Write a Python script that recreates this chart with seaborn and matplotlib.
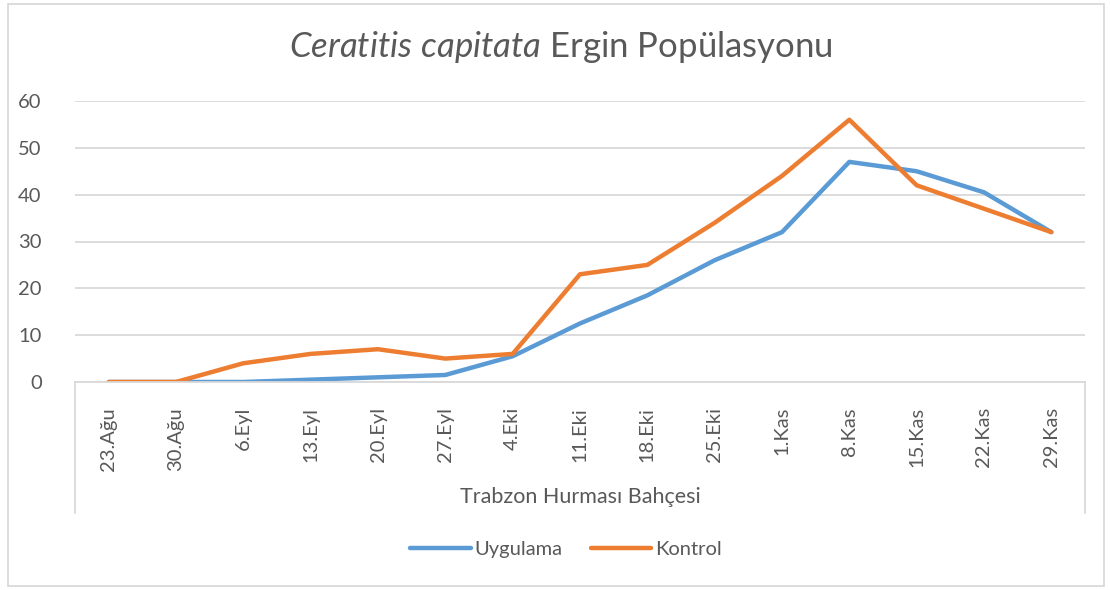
import numpy as np
import pandas as pd
import matplotlib
matplotlib.use("Agg")
import matplotlib.pyplot as plt
import seaborn as sns
from matplotlib.patches import Rectangle
from matplotlib.lines import Line2D

# data
dates = ["23.Ağu", "30.Ağu", "6.Eyl", "13.Eyl", "20.Eyl", "27.Eyl", "4.Eki",
         "11.Eki", "18.Eki", "25.Eki", "1.Kas", "8.Kas", "15.Kas", "22.Kas", "29.Kas"]
uygulama = [0, 0, 0, 0.5, 1, 1.5, 5.5, 12.5, 18.5, 26, 32, 47, 45, 40.5, 32]
kontrol = [0, 0, 4, 6, 7, 5, 6, 23, 25, 34, 44, 56, 42, 37, 32]
series_names = ["Uygulama", "Kontrol"]
colors = ["#5B9BD5", "#ED7D31"]

df = pd.DataFrame({
    "pos": list(range(len(dates))) * 2,
    "value": uygulama + kontrol,
    "series": [series_names[0]] * len(dates) + [series_names[1]] * len(dates),
})

sns.set_style("white")
plt.rcParams["font.family"] = ["Lato", "DejaVu Sans"]
plt.rcParams["mathtext.fontset"] = "custom"
plt.rcParams["mathtext.it"] = "Lato:italic"
plt.rcParams["mathtext.rm"] = "Lato"

txt = "#595959"
grid = "#d9d9d9"
fs = 14.5

fig = plt.figure(figsize=(11.1, 5.9), dpi=100)
ax = fig.add_axes([75 / 1110, 1 - 382 / 590, 1010 / 1110, 281 / 590])

sns.lineplot(data=df, x="pos", y="value", hue="series", palette=colors,
             linewidth=3.2, ax=ax, legend=False, sort=False)

ax.set_xlim(-0.5, len(dates) - 0.5)
ax.set_ylim(0, 60)
ax.set_yticks(range(0, 61, 10))
ax.set_xticks(range(len(dates)))
ax.set_xticklabels(dates, rotation=90, va="top")
ax.tick_params(axis="x", length=0, pad=18, labelsize=fs, labelcolor=txt)
ax.tick_params(axis="y", length=0, pad=24, labelsize=fs, labelcolor=txt)
ax.yaxis.grid(True, color=grid, linewidth=1.3)
ax.set_axisbelow(True)
for s in ["top", "right", "left"]:
    ax.spines[s].set_visible(False)
ax.spines["bottom"].set_color(grid)
ax.spines["bottom"].set_linewidth(1.3)
ax.set_xlabel("")
ax.set_ylabel("")

# category box side lines below the axis
for xp in [75, 1085]:
    fig.add_artist(Line2D([xp / 1110, xp / 1110], [1 - 382 / 590, 1 - 513 / 590],
                          color=grid, linewidth=1.3))

fig.text(580 / 1110, 1 - 497 / 590, "Trabzon Hurması Bahçesi", ha="center",
         va="center", fontsize=15.5, color=txt)

fig.text(561 / 1110, 1 - 47 / 590, r"$\it{Ceratitis\ capitata}$ Ergin Popülasyonu",
         ha="center", va="center", fontsize=25, color=txt)

handles = [Line2D([], [], color=c, linewidth=3.2, solid_capstyle="round") for c in colors]
fig.legend(handles, series_names, loc="center", bbox_to_anchor=(566 / 1110, 1 - 549 / 590),
           ncol=2, frameon=False, fontsize=fs, labelcolor=txt, handlelength=3.0,
           handletextpad=0.2, columnspacing=1.4)

# outer chart border
fig.add_artist(Rectangle((8 / 1110, 4 / 590), 1096 / 1110, 582 / 590, transform=fig.transFigure,
                         fill=False, edgecolor=grid, linewidth=1.3))

fig.savefig("out.png", dpi=100)
